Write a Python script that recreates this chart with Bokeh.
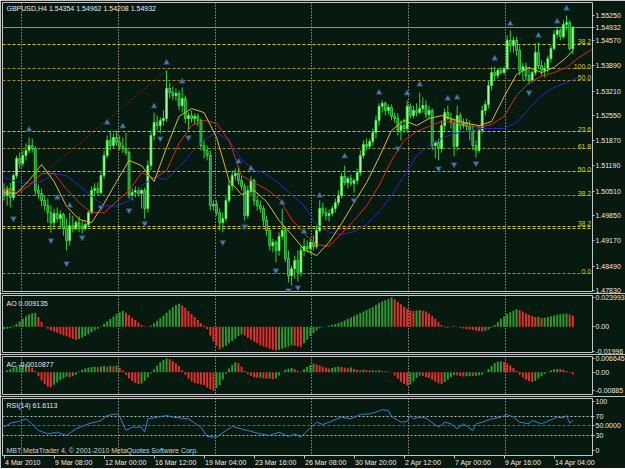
from bokeh.plotting import figure
from bokeh.layouts import column
from bokeh.models import (Range1d, FixedTicker, Label, PrintfTickFormatter,
                          ColumnDataSource, LinearAxis)
from bokeh.core.properties import value
from bokeh.embed import file_html
from bokeh.resources import INLINE

# ---------------- data ----------------
header_text = "GBPUSD,H4  1.54354 1.54962 1.54208 1.54932"
first_open = 1.5053
close = [
    1.5039, 1.5058, 1.5034, 1.5093, 1.5139, 1.5126, 1.5147, 1.5161, 1.5174, 1.5166,
    1.5053, 1.5045, 1.5026, 1.5012, 1.4993, 1.4966, 1.4991, 1.4977, 1.4988, 1.4950,
    1.4918, 1.4958, 1.4950, 1.4966, 1.4956, 1.4950, 1.4961, 1.4993, 1.5053, 1.5058,
    1.5047, 1.5093, 1.5147, 1.5188, 1.5174, 1.5196, 1.5182, 1.5172, 1.5166, 1.5155,
    1.5039, 1.5047, 1.5053, 1.5045, 1.5053, 1.5004, 1.5120, 1.5201, 1.5236, 1.5228,
    1.5242, 1.5247, 1.5328, 1.5317, 1.5309, 1.5315, 1.5282, 1.5301, 1.5247, 1.5255,
    1.5247, 1.5253, 1.5242, 1.5174, 1.5161, 1.5147, 1.5012, 1.5015, 1.4993, 1.4966,
    1.4977, 1.5026, 1.5066, 1.5093, 1.5099, 1.5080, 1.5064, 1.4985, 1.5053, 1.5080,
    1.5026, 1.5012, 1.5004, 1.4972, 1.4945, 1.4904, 1.4913, 1.4891, 1.4929, 1.4945,
    1.4869, 1.4823, 1.4842, 1.4864, 1.4832, 1.4891, 1.4902, 1.4896, 1.4913, 1.4902,
    1.4945, 1.5004, 1.4993, 1.4985, 1.4991, 1.5004, 1.5020, 1.5039, 1.5091, 1.5074,
    1.5085, 1.5072, 1.5080, 1.5101, 1.5147, 1.5177, 1.5172, 1.5185, 1.5209, 1.5242,
    1.5280, 1.5288, 1.5269, 1.5277, 1.5253, 1.5247, 1.5215, 1.5228, 1.5220, 1.5280,
    1.5255, 1.5269, 1.5263, 1.5274, 1.5282, 1.5258, 1.5269, 1.5174, 1.5182, 1.5166,
    1.5228, 1.5263, 1.5247, 1.5236, 1.5172, 1.5255, 1.5228, 1.5236, 1.5226, 1.5215,
    1.5174, 1.5161, 1.5215, 1.5269, 1.5285, 1.5336, 1.5371, 1.5363, 1.5377, 1.5371,
    1.5382, 1.5458, 1.5444, 1.5458, 1.5431, 1.5377, 1.5387, 1.5363, 1.5350, 1.5371,
    1.5425, 1.5390, 1.5377, 1.5382, 1.5409, 1.5436, 1.5474, 1.5485, 1.5468, 1.5501,
    1.5506, 1.54354, 1.54932]
high = [
    1.5072, 1.5066, 1.5074, 1.5099, 1.5147, 1.5155, 1.5161, 1.5180, 1.5196, 1.5193,
    1.5172, 1.5069, 1.5058, 1.5039, 1.5031, 1.5012, 1.5004, 1.5007, 1.4999, 1.4993,
    1.4977, 1.4993, 1.4985, 1.4972, 1.4983, 1.4972, 1.4966, 1.4999, 1.5064, 1.5072,
    1.5074, 1.5107, 1.5161, 1.5201, 1.5215, 1.5207, 1.5215, 1.5201, 1.5196, 1.5209,
    1.5161, 1.5058, 1.5064, 1.5061, 1.5058, 1.5061, 1.5134, 1.5215, 1.5263, 1.5255,
    1.5250, 1.5269, 1.5377, 1.5344, 1.5333, 1.5328, 1.5323, 1.5331, 1.5309, 1.5263,
    1.5269, 1.5261, 1.5261, 1.5247, 1.5188, 1.5174, 1.5161, 1.5026, 1.5026, 1.5004,
    1.4993, 1.5037, 1.5080, 1.5107, 1.5112, 1.5118, 1.5093, 1.5072, 1.5066, 1.5091,
    1.5085, 1.5039, 1.5026, 1.5012, 1.4985, 1.4950, 1.4923, 1.4918, 1.4940, 1.5004,
    1.4956, 1.4891, 1.4850, 1.4877, 1.4891, 1.4904, 1.4923, 1.4918, 1.4923, 1.4931,
    1.4958, 1.5026, 1.5020, 1.5007, 1.5002, 1.5012, 1.5031, 1.5053, 1.5101, 1.5120,
    1.5091, 1.5096, 1.5085, 1.5112, 1.5161, 1.5188, 1.5193, 1.5193, 1.5220, 1.5255,
    1.5288, 1.5296, 1.5293, 1.5285, 1.5285, 1.5263, 1.5261, 1.5242, 1.5247, 1.5296,
    1.5288, 1.5282, 1.5288, 1.5317, 1.5304, 1.5296, 1.5282, 1.5274, 1.5188, 1.5193,
    1.5242, 1.5274, 1.5282, 1.5263, 1.5247, 1.5282, 1.5263, 1.5247, 1.5247, 1.5242,
    1.5228, 1.5188, 1.5228, 1.5282, 1.5296, 1.5350, 1.5387, 1.5387, 1.5382, 1.5385,
    1.5387, 1.5471, 1.5485, 1.5468, 1.5468, 1.5444, 1.5398, 1.5398, 1.5382, 1.5377,
    1.5450, 1.5452, 1.5404, 1.5398, 1.5417, 1.5444, 1.5485, 1.5495, 1.5490, 1.5512,
    1.5525, 1.5512, 1.54962]
low = [
    1.5026, 1.5012, 1.5007, 1.5026, 1.5085, 1.5112, 1.5118, 1.5134, 1.5153, 1.5155,
    1.5039, 1.5031, 1.5010, 1.4999, 1.4966, 1.4940, 1.4956, 1.4966, 1.4950, 1.4931,
    1.4891, 1.4904, 1.4940, 1.4945, 1.4940, 1.4937, 1.4945, 1.4956, 1.4988, 1.5037,
    1.5039, 1.5042, 1.5085, 1.5139, 1.5161, 1.5166, 1.5174, 1.5161, 1.5155, 1.5147,
    1.5031, 1.5026, 1.5034, 1.5037, 1.5004, 1.4977, 1.4993, 1.5107, 1.5188, 1.5215,
    1.5207, 1.5228, 1.5239, 1.5301, 1.5296, 1.5296, 1.5269, 1.5263, 1.5234, 1.5215,
    1.5236, 1.5231, 1.5226, 1.5161, 1.5139, 1.5134, 1.4999, 1.4999, 1.4985, 1.4945,
    1.4940, 1.4969, 1.5020, 1.5053, 1.5080, 1.5069, 1.5053, 1.4972, 1.4977, 1.5039,
    1.5012, 1.4999, 1.4993, 1.4958, 1.4931, 1.4891, 1.4886, 1.4859, 1.4877, 1.4918,
    1.4859, 1.4805, 1.4797, 1.4815, 1.4807, 1.4821, 1.4875, 1.4886, 1.4883, 1.4891,
    1.4896, 1.4940, 1.4983, 1.4972, 1.4969, 1.4983, 1.4993, 1.5012, 1.5031, 1.5066,
    1.5058, 1.5064, 1.5047, 1.5069, 1.5093, 1.5139, 1.5161, 1.5166, 1.5174, 1.5193,
    1.5228, 1.5263, 1.5255, 1.5258, 1.5242, 1.5236, 1.5201, 1.5188, 1.5209, 1.5209,
    1.5247, 1.5247, 1.5253, 1.5258, 1.5263, 1.5247, 1.5247, 1.5161, 1.5139, 1.5134,
    1.5155, 1.5215, 1.5242, 1.5220, 1.5145, 1.5161, 1.5215, 1.5220, 1.5215, 1.5188,
    1.5161, 1.5142, 1.5155, 1.5207, 1.5255, 1.5274, 1.5323, 1.5350, 1.5355, 1.5366,
    1.5366, 1.5377, 1.5425, 1.5425, 1.5417, 1.5363, 1.5350, 1.5350, 1.5339, 1.5344,
    1.5363, 1.5382, 1.5363, 1.5358, 1.5371, 1.5398, 1.5431, 1.5463, 1.5458, 1.5463,
    1.5485, 1.5431, 1.54208]

price_ticks = [1.55250, 1.54570, 1.53890, 1.53210, 1.52550, 1.51870,
               1.51190, 1.50510, 1.49850, 1.49170, 1.48490, 1.47830]
time_ticks = [0, 16, 32, 48, 64, 80, 96, 112, 128, 144, 160, 176]
time_labels = ["4 Mar 2010", "9 Mar 08:00", "12 Mar 00:00", "16 Mar 12:00",
               "19 Mar 04:00", "23 Mar 16:00", "26 Mar 08:00", "30 Mar 20:00",
               "2 Apr 12:00", "7 Apr 00:00", "9 Apr 16:00", "14 Apr 04:00"]
week_lines = [5.5, 36.5, 67.5, 98.5, 129.5, 160.5]

# moving averages (sampled every 4 bars)
yellow_x = list(range(0, 184, 4)) + [182]
yellow_y = [1.5047, 1.5045, 1.5080, 1.5123, 1.5077, 1.5010, 1.4975, 1.4966, 1.5018, 1.5077,
            1.5134, 1.5120, 1.5077, 1.5169, 1.5253, 1.5274, 1.5263, 1.5196, 1.5080, 1.5042,
            1.5053, 1.5023, 1.4972, 1.4934, 1.4894, 1.4877, 1.4913, 1.4964, 1.5020, 1.5074,
            1.5142, 1.5215, 1.5242, 1.5228, 1.5247, 1.5255, 1.5244, 1.5234, 1.5228, 1.5239,
            1.5306, 1.5366, 1.5385, 1.5371, 1.5385, 1.5412, 1.5431]
red_x = list(range(0, 192, 4))
red_y = [1.5058, 1.5047, 1.5066, 1.5099, 1.5099, 1.5056, 1.5020, 1.4993, 1.4993, 1.5023,
         1.5053, 1.5101, 1.5085, 1.5107, 1.5180, 1.5228, 1.5242, 1.5234, 1.5188, 1.5093,
         1.5074, 1.5056, 1.5031, 1.4975, 1.4937, 1.4907, 1.4902, 1.4937, 1.4972, 1.5012,
         1.5066, 1.5134, 1.5188, 1.5212, 1.5226, 1.5239, 1.5236, 1.5231, 1.5223, 1.5231,
         1.5253, 1.5309, 1.5344, 1.5361, 1.5371, 1.5385, 1.5412, 1.5433]
blue_x = list(range(0, 188, 4))
blue_y = [1.5088, 1.5077, 1.5072, 1.5077, 1.5099, 1.5093, 1.5066, 1.5037, 1.5012, 1.5010,
          1.5026, 1.5066, 1.5088, 1.5083, 1.5115, 1.5155, 1.5190, 1.5209, 1.5188, 1.5136,
          1.5109, 1.5096, 1.5072, 1.5042, 1.5012, 1.4961, 1.4940, 1.4934, 1.4942, 1.4961,
          1.4996, 1.5039, 1.5091, 1.5147, 1.5174, 1.5193, 1.5207, 1.5212, 1.5220, 1.5220,
          1.5220, 1.5236, 1.5274, 1.5309, 1.5331, 1.5344, 1.5358]

# fractal arrows
frac_up_x = [8, 17, 21, 33, 38, 48, 52, 57, 75, 79, 89, 96, 101, 109, 120, 129, 133,
             142, 145, 157, 162, 171, 177, 180]
frac_up_y = [1.5217, 1.5034, 1.5012, 1.5236, 1.5226, 1.5280, 1.5398, 1.5347, 1.5131,
             1.5112, 1.5020, 1.4942, 1.5039, 1.5145, 1.5317, 1.5315, 1.5339, 1.5301,
             1.5304, 1.5409, 1.5503, 1.5471, 1.5509, 1.5544]
frac_dn_x = [3, 15, 20, 25, 31, 40, 45, 50, 59, 70, 77, 87, 91, 94, 112, 126, 139,
             144, 151, 168]
frac_dn_y = [1.4977, 1.4918, 1.4856, 1.4926, 1.5007, 1.4999, 1.4964, 1.5193, 1.5196,
             1.4913, 1.4956, 1.4837, 1.4783, 1.4791, 1.5026, 1.5166, 1.5112, 1.5123,
             1.5126, 1.5317]

# dotted trend line and fibonacci levels
trend_x = [1.5, 52]
trend_y = [1.5020, 1.5377]
fib_levels = [1.5447, 1.5382, 1.5350, 1.5211, 1.5166, 1.5104, 1.5039, 1.4956, 1.4950, 1.4828]
fib_labels = ["38.2", "100.0", "50.0", "23.6", "61.8", "50.0", "38.2", "38.2", "", "0.0"]
fib_bright = [True, False, False, True, False, True, False, True, True, False]

# Awesome oscillator (x 1e-3)
ao_e3 = [-2.0, -1.6, -1.2, 0.8, 2.5, 4.5, 6.5, 8.5, 10.0, 11.0, 11.3,
         8.0, 4.0, 0.5, -1.5, -2.8, -3.8, -4.8, -5.8, -6.8, -7.8, -8.8, -9.8, -10.8,
         -10.0, -8.8, -7.5, -6.0, -4.5, -3.0, -1.5,
         0.5, 2.5, 4.5, 6.5, 8.5, 10.5, 12.0, 13.0,
         11.5, 9.5, 7.5, 5.5, 3.5, 1.5, 0.5, 0.2,
         1.0, 3.0, 5.0, 7.0, 9.0, 11.5, 14.0, 16.0, 17.8, 18.9,
         17.5, 15.5, 13.0, 10.5, 8.0, 5.5, 3.0, 1.0,
         -2.0, -7.0, -12.0, -15.5, -18.3,
         -17.0, -15.5, -13.5, -11.5, -9.5, -7.5, -6.0,
         -7.0, -9.0, -10.5, -12.0, -13.5, -15.0, -16.0, -17.0, -18.0, -18.8, -19.4,
         -19.0, -18.0, -17.0, -16.0, -15.0,
         -15.5, -16.0, -16.3,
         -13.5, -10.5, -7.5, -5.0, -3.0, -1.2,
         -0.3, 0.3,
         0.8, 1.6, 2.4, 3.2, 4.0, 5.2, 6.5, 7.7, 8.9, 10.1, 11.3, 12.5, 13.7, 14.9,
         16.2, 17.8, 19.4, 20.6, 21.8, 22.8, 23.993,
         22.5, 20.5, 18.5, 16.5, 14.8, 13.5, 13.0,
         13.4, 13.8,
         13.2, 12.5, 11.0, 9.0, 6.5, 4.0, 1.5,
         -0.5, -0.8, 0.3, 0.6, 0.2,
         -0.8, -1.3, -1.8, -2.2, -2.7, -3.1, -3.5, -3.7,
         -3.2, -2.2, -0.8,
         1.5, 4.0, 6.5, 8.5, 10.5, 12.0, 13.2, 14.3,
         13.5, 12.3, 11.0, 9.8, 8.8, 8.0,
         8.2, 7.2,
         7.5, 8.0, 8.6, 9.2, 9.8, 10.3, 10.7, 10.9,
         10.0, 9.135]

# Accelerator oscillator (x 1e-3)
ac_e3 = [0.2, 0.9, 1.6, 2.3, 2.9, 3.4, 3.7, 3.9, 3.3, 2.2,
         0.6, -1.8, -4.0, -5.8, -7.0, -7.3, -6.1, -5.0, -3.9, -3.0,
         -2.2, -2.5, -1.9, -1.2, 0.3, 1.2, 1.8, 2.2, 2.5, 2.6,
         2.4, 2.7, 3.0, 2.6, 3.1, 2.9, 3.3, 2.2, 0.8, -1.2,
         -3.0, -4.3, -5.2, -5.7, -5.5, -4.2, -2.6, -0.6, 1.4, 3.2,
         4.8, 5.9, 6.645, 6.3, 5.4, 4.3, 3.0, 1.0, -1.2, -3.0,
         -4.4, -5.2, -5.6, -5.9, -6.3, -7.4, -8.3, -8.857, -7.6, -6.3,
         -3.5, -0.8, 1.8, 3.6, 4.8, 4.5, 2.8, 0.6, -1.0, -1.9,
         -2.4, -2.7, -2.6, -2.9, -3.2, -3.0, -3.4, -3.1, -1.6, 0.2,
         1.2, 1.7, 2.0, 1.5, 0.6, 0.2, 1.4, 2.6, 3.5, 4.1,
         3.8, 3.2, 2.6, 2.2, 1.8, 2.0, 2.4, 2.7, 2.5, 2.2,
         1.9, 2.3, 1.6, 1.2, 1.0, 1.3, 0.9, 0.8, 1.0, 0.7,
         0.9, 0.6, 0.4, 0.2, 0.1, -1.6, -3.2, -4.6, -5.7, -6.4,
         -5.9, -4.4, -2.8, -1.6, -1.9, -2.3, -2.8, -3.6, -4.6, -5.4,
         -5.7, -4.8, -3.7, -2.3, -1.4, -1.6, -1.9, -2.1, -2.0, -1.8,
         -1.9, -1.7, -1.5, -1.2, 0.2, 1.5, 3.0, 4.3, 5.0, 5.3,
         4.9, 4.2, 3.3, 2.0, 0.6, -1.2, -2.6, -3.6, -4.4, -4.8,
         -4.2, -3.1, -2.0, -0.9, 0.3, 1.0, 1.4, 1.6, 1.5, 1.2,
         0.6, -0.3, -1.0877]

# RSI(14)
rsi_x = [0, 2, 5, 7, 9, 11, 14, 17, 20, 23, 27, 31, 33, 36, 37, 39, 41, 44, 45, 46,
         49, 52, 54, 59, 63, 65, 68, 71, 73, 78, 82, 85, 88, 91, 93, 95, 98, 100, 102,
         104, 108, 111, 114, 117, 119, 121, 123, 124, 127, 129, 130, 131, 133, 135, 139,
         141, 143, 145, 147, 150, 151, 153, 156, 159, 161, 163, 165, 168, 169, 172, 174,
         177, 179, 180, 181, 182]
rsi_v = [47.6, 55.7, 59.8, 64.6, 54.4, 40.8, 34.0, 37.4, 30.6, 44.2, 54.4, 61.2, 71.4,
         74.8, 69.4, 40.8, 47.6, 47.6, 37.4, 64.6, 68.0, 71.4, 68.0, 64.6, 47.6, 28.6,
         27.2, 40.8, 49.0, 40.8, 34.0, 30.6, 37.4, 28.6, 34.0, 27.2, 46.0, 57.8, 53.0,
         57.8, 68.0, 64.6, 73.5, 74.8, 78.2, 83.0, 81.6, 69.4, 57.8, 59.2, 71.4, 64.6,
         68.0, 66.0, 47.6, 57.8, 54.4, 44.2, 54.4, 40.8, 54.4, 57.8, 64.6, 68.0, 73.5,
         68.0, 57.8, 54.4, 61.2, 54.4, 59.8, 68.0, 66.7, 71.4, 55.7, 61.6113]
rsi_levels_grey = [70, 30]
rsi_level_mid = 50

# ---------------- styling ----------------
BG = "#071a10"
FRAME = "#c4c4c4"
TXT = "#e8e8e8"
FONT = "Liberation Sans"
FS = "7px"
FS_PX = 7
GRID = "#d8d0c0"
WICK = "#33d433"
BULL_FILL, BEAR_FILL, BODY_LINE = "#b4ffa8", "#1f7048", "#3cf03c"
HIST_UP, HIST_DN = "#2f9a2f", "#ee2b2b"
FRAME_W = 590

xr = Range1d(-0.5, 188.3)


def panel(frame_h, yr, bottom_axis=False):
    p = figure(frame_width=FRAME_W, frame_height=frame_h, x_range=xr, y_range=yr,
               output_backend="svg", toolbar_location=None,
               x_axis_location="below" if bottom_axis else None,
               y_axis_location="right",
               min_border_left=2, min_border_right=33, min_border_top=2,
               min_border_bottom=13 if bottom_axis else 2,
               background_fill_color=BG, border_fill_color=BG,
               outline_line_color=FRAME, outline_line_width=1)
    p.grid.visible = False
    ya = p.yaxis[0]
    ya.axis_line_color = None
    ya.major_tick_line_color = FRAME
    ya.major_tick_out = 2
    ya.major_tick_in = 0
    ya.minor_tick_line_color = None
    ya.major_label_text_color = TXT
    ya.major_label_text_font = FONT
    ya.major_label_text_font_size = FS
    ya.major_label_standoff = 1
    p.vspan(x=week_lines, line_color=GRID, line_dash="1 2", line_width=1)
    return p


def add_text(p, x, y, text, **kw):
    opts = dict(text_font=FONT, text_font_size=FS, text_color=TXT)
    opts.update(kw)
    p.add_layout(Label(x=x, y=y, text=text, **opts))


# ---------------- main price panel ----------------
pm = panel(289, Range1d(1.47803, 1.55601))
pm.yaxis.ticker = FixedTicker(ticks=price_ticks + [close[-1]])
pm.yaxis.formatter = PrintfTickFormatter(format="%.5f")

bright = [l for l, b in zip(fib_levels, fib_bright) if b]
dim = [l for l, b in zip(fib_levels, fib_bright) if not b]
pm.hspan(y=bright, line_color="#d4c41e", line_dash="3 2", line_width=1)
pm.hspan(y=dim, line_color="#a8882c", line_dash="3 2", line_width=1)
pm.hspan(y=[close[-1]], line_color="#8e8e8e", line_width=1)

lab_y = [l for l, t in zip(fib_levels, fib_labels) if t]
lab_t = [t for t in fib_labels if t]
pm.text(x=[xr.end - 0.4] * len(lab_y), y=lab_y, text=lab_t, text_align="right",
        text_baseline="bottom", text_color="#d8c814", text_font=value(FONT),
        text_font_size=FS)

pm.line(trend_x, trend_y, line_color="#d02020", line_dash="1 2", line_width=1)

n = len(close)
bars = list(range(n))
opens = [first_open] + close[:-1]
src = ColumnDataSource(dict(
    x=bars, h=high, l=low,
    top=[max(o, c) for o, c in zip(opens, close)],
    bot=[min(o, c) for o, c in zip(opens, close)],
    fill=[BULL_FILL if c >= o else BEAR_FILL for o, c in zip(opens, close)]))
pm.segment(x0="x", y0="h", x1="x", y1="l", line_color=WICK, line_width=1, source=src)
pm.vbar(x="x", width=0.6, top="top", bottom="bot", fill_color="fill",
        line_color=BODY_LINE, line_width=0.8, source=src)

pm.line(blue_x, blue_y, line_color="#3420c4", line_width=1)
pm.line(red_x, red_y, line_color="#e02818", line_width=1)
pm.line(yellow_x, yellow_y, line_color="#dcbc1c", line_width=1)

pm.scatter(frac_up_x, frac_up_y, marker="triangle", size=6,
           fill_color="#4a7eb0", line_color="#22405e", line_width=0.8)
pm.scatter(frac_dn_x, frac_dn_y, marker="inverted_triangle", size=6,
           fill_color="#4a7eb0", line_color="#22405e", line_width=0.8)

add_text(pm, xr.start, 1.55601, header_text, x_offset=4, y_offset=-2,
         text_baseline="top")

# ---------------- AO panel ----------------
ao = [v * 1e-3 for v in ao_e3]
pa = panel(57, Range1d(-0.0210, 0.0256))
ao_ticks = [0.023993, 0.0, -0.01996]
pa.yaxis.ticker = FixedTicker(ticks=ao_ticks)
pa.yaxis.major_label_overrides = {0.023993: "0.023993", 0.0: "0.00", -0.01996: "-0.01996"}
ao_col = [HIST_UP if i == 0 or ao[i] > ao[i - 1] else HIST_DN for i in range(n)]
pa.vbar(x=bars, top=ao, bottom=0, width=0.62, fill_color=ao_col, line_color=None)
add_text(pa, xr.start, 0.0256, "AO %.6f" % ao[-1], x_offset=4, y_offset=-4,
         text_baseline="top")

# ---------------- AC panel ----------------
ac = [v * 1e-3 for v in ac_e3]
pc = panel(38, Range1d(-0.0108, 0.0076))
ac_ticks = [0.006645, 0.0, -0.008857]
pc.yaxis.ticker = FixedTicker(ticks=ac_ticks)
pc.yaxis.major_label_overrides = {0.006645: "0.006645", 0.0: "0.00", -0.008857: "-0.00885"}
ac_col = [HIST_UP if i == 0 or ac[i] > ac[i - 1] else HIST_DN for i in range(n)]
pc.vbar(x=bars, top=ac, bottom=0, width=0.62, fill_color=ac_col, line_color=None)
add_text(pc, xr.start, 0.0076, "AC -0.0010877", x_offset=4, y_offset=-4,
         text_baseline="top")

# ---------------- RSI panel ----------------
pr = panel(57, Range1d(-10.2, 106.1), bottom_axis=True)
pr.yaxis.ticker = FixedTicker(ticks=[0, 30, rsi_level_mid, 70, 100])
pr.yaxis.major_label_overrides = {rsi_level_mid: "%.4f" % rsi_level_mid}
pr.hspan(y=rsi_levels_grey, line_color="#b8b8b8", line_dash="2 2", line_width=1)
pr.hspan(y=[rsi_level_mid], line_color="#e03030", line_dash="3 2", line_width=1)
pr.line(rsi_x, rsi_v, line_color="#2f7fd8", line_width=1)
add_text(pr, xr.start, 106.1, "RSI(14) %.4f" % rsi_v[-1], x_offset=4, y_offset=-3,
         text_baseline="top")
add_text(pr, xr.start, -10.2, "MBT MetaTrader 4, \u00a9 2001-2010 MetaQuotes Software Corp.",
         x_offset=4, y_offset=2, text_baseline="bottom", text_color="#d0d0d0")

# time axis: tick marks at the bar where each label starts ...
xa = pr.xaxis[0]
xa.ticker = FixedTicker(ticks=time_ticks)
xa.major_label_overrides = {t: "" for t in time_ticks}
xa.major_label_text_font_size = "1px"
xa.major_label_standoff = 0
xa.axis_line_color = None
xa.major_tick_line_color = FRAME
xa.major_tick_out = 3
xa.major_tick_in = 0
xa.minor_tick_line_color = None

# ... and labels that start at those ticks (left-aligned look)
ARIAL_W = {"0": .556, "1": .556, "2": .556, "3": .556, "4": .556, "5": .556,
           "6": .556, "7": .556, "8": .556, "9": .556, " ": .278, ":": .278,
           "M": .833, "a": .556, "r": .333, "A": .667, "p": .556}
bar_px = FRAME_W / (xr.end - xr.start)
label_pos = [round(t + (sum(ARIAL_W.get(ch, .556) for ch in s) * FS_PX / 2 + 1) / bar_px, 3)
             for t, s in zip(time_ticks, time_labels)]
xl = LinearAxis(ticker=FixedTicker(ticks=label_pos),
                major_label_overrides=dict(zip(label_pos, time_labels)),
                axis_line_color=None, major_tick_line_color=None,
                minor_tick_line_color=None, major_tick_out=0, major_tick_in=0,
                major_label_standoff=0, major_label_text_color=TXT,
                major_label_text_font=FONT, major_label_text_font_size=FS)
pr.add_layout(xl, "below")

layout = column(pm, pa, pc, pr, spacing=0)
open("out.html", "w").write(file_html(layout, INLINE))
